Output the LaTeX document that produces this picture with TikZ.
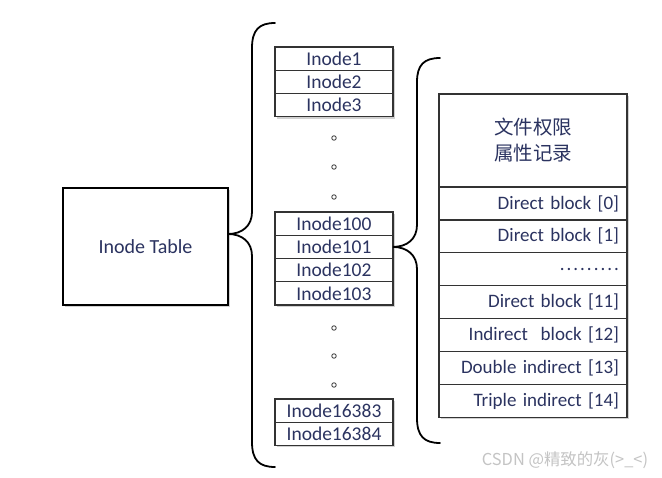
\documentclass[tikz,border=0pt]{standalone}
\usepackage{fontspec}
\setmainfont{Carlito}
\newfontfamily\cjk{Noto Sans CJK SC}
\usepackage{xcolor}
\usepackage{tikz}
\usetikzlibrary{positioning,shadows}
\definecolor{inktext}{HTML}{2B3360}
\definecolor{boxline}{HTML}{333333}
\definecolor{shadowgray}{HTML}{9A9A9A}
\definecolor{markgray}{HTML}{C4C4C4}
\tikzset{
    softshadow/.style={
        drop shadow={shadow xshift=1.8pt, shadow yshift=-1.8pt, fill=shadowgray, opacity=0.45}
    },
    tablebox/.style={
        draw=black, fill=white, line width=1.8pt, softshadow,
        minimum width=165pt, minimum height=117pt, outer sep=0pt,
        font=\fontsize{20}{22}\selectfont, text=inktext
    },
    inoderow/.style={
        draw=boxline, fill=white, line width=1.3pt, softshadow,
        minimum width=118pt, minimum height=23.3pt, inner sep=0pt, outer sep=0pt,
        font=\fontsize{19.5}{20}\selectfont, text=inktext
    },
    attrbox/.style={
        draw=boxline, fill=white, line width=1.3pt, softshadow,
        minimum width=188pt, minimum height=93pt, inner sep=0pt, outer sep=0pt,
        font=\cjk\fontsize{19.5}{26}\selectfont, text=inktext, align=center
    },
    blockrow/.style={
        draw=boxline, fill=white, line width=1.3pt, softshadow,
        text width=172pt, inner xsep=8pt, inner ysep=0pt,
        minimum height=32.9pt, outer sep=0pt, align=right,
        font=\fontsize{19}{20}\selectfont, text=inktext
    },
    gapdot/.style={
        circle, draw=boxline, line width=0.8pt, inner sep=0pt, minimum size=4.5pt
    },
    bracket/.style={draw=black, line width=1.8pt, line cap=round},
    watermark/.style={font=\cjk\fontsize{16.4}{18}\selectfont, text=markgray},
}
\newcommand{\rowdots}{.\kern2pt.\kern2pt.\kern2pt.\kern2pt.\kern2pt.\kern2pt.\kern2pt.\kern2pt.}

\begin{document}
\begin{tikzpicture}[x=1pt, y=-1pt]
    \path[fill=white, use as bounding box] (0,0) rectangle (662,478);

    % inode table
    \node[tablebox] (tab) at (145.5,246.5) {Inode Table};

    % inode column
    \node[inoderow] (i1) at (334,58.6) {Inode1};
    \node[inoderow, below=0pt of i1] (i2) {Inode2};
    \node[inoderow, below=0pt of i2] (i3) {Inode3};
    \node[gapdot] (d1) at (334,138) {};
    \node[gapdot] (d2) at (334,167) {};
    \node[gapdot] (d3) at (334,197) {};
    \node[inoderow] (i100) at (334,223.6) {Inode100};
    \node[inoderow, below=0pt of i100] (i101) {Inode101};
    \node[inoderow, below=0pt of i101] (i102) {Inode102};
    \node[inoderow, below=0pt of i102] (i103) {Inode103};
    \node[gapdot] (d4) at (334,328) {};
    \node[gapdot] (d5) at (334,356) {};
    \node[gapdot] (d6) at (334,385) {};
    \node[inoderow] (i16383) at (334,410.6) {Inode16383};
    \node[inoderow, below=0pt of i16383] (i16384) {Inode16384};

    % inode content
    \node[attrbox] (attr) at (533,140.5) {文件权限\\属性记录};
    \node[blockrow, below=0pt of attr] (b0) {Direct block [0]};
    \node[blockrow, below=0pt of b0] (b1) {Direct block [1]};
    \node[blockrow, below=0pt of b1] (bdots) {\rowdots};
    \node[blockrow, below=0pt of bdots] (b11) {Direct block [11]};
    \node[blockrow, below=0pt of b11] (b12) {Indirect\ \ block [12]};
    \node[blockrow, below=0pt of b12] (b13) {Double indirect [13]};
    \node[blockrow, below=0pt of b13] (b14) {Triple indirect [14]};

    % braces
    \draw[bracket] (275,23) .. controls (259,23) and (252,30) .. (252,48) -- (252,212)
        .. controls (252,226) and (242,234) .. (tab.east |- 0,234)
        .. controls (242,234) and (252,242) .. (252,256) -- (252,442)
        .. controls (252,460) and (259,467) .. (275,467);
    \draw[bracket] (440,58) .. controls (424,58) and (417,65) .. (417,82) -- (417,225)
        .. controls (417,239) and (407,247) .. (i101.east)
        .. controls (407,247) and (417,255) .. (417,269) -- (417,418)
        .. controls (417,436) and (424,443) .. (440,443);

    \node[watermark] (mark) at (565,460) {CSDN @精致的灰(>\_<)};
\end{tikzpicture}
\end{document}
